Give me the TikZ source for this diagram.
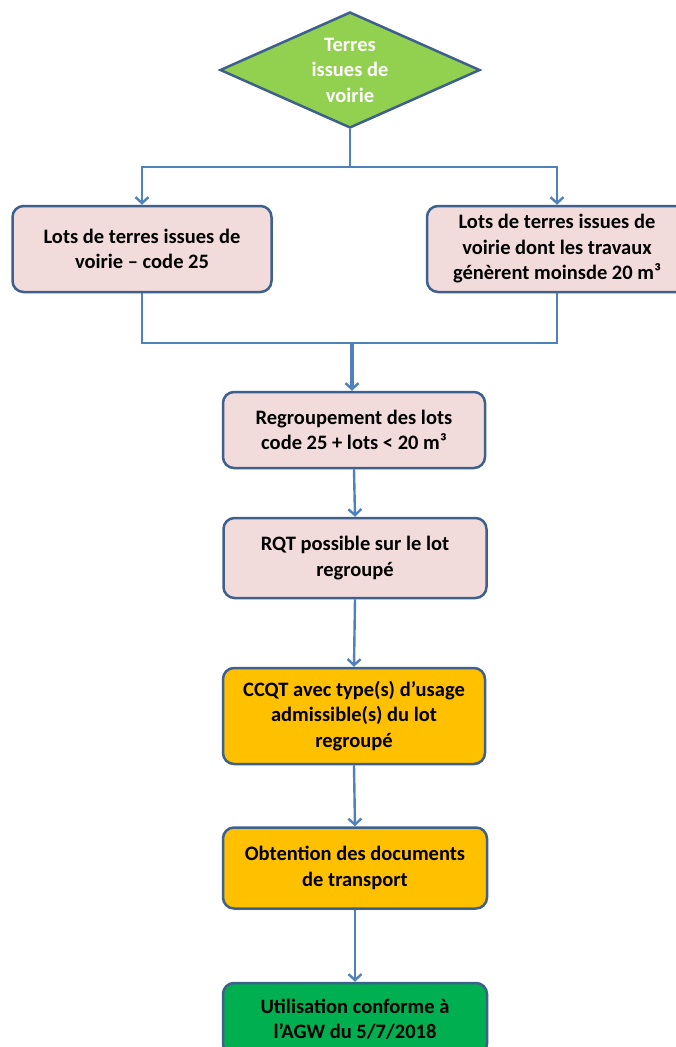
\documentclass[tikz,border=0pt]{standalone}
\usepackage{fontspec}
\setmainfont{Carlito}
\usetikzlibrary{shapes.geometric,arrows.meta}
\definecolor{bord}{RGB}{62,96,140}
\definecolor{lnk}{RGB}{79,129,189}
\definecolor{pinkf}{RGB}{242,220,219}
\definecolor{orangef}{RGB}{255,192,0}
\definecolor{lgreen}{RGB}{146,208,80}
\definecolor{dgreen}{RGB}{0,176,80}
\tikzset{
  box/.style={draw=bord, line width=2.5pt, rounded corners=11pt, align=center,
    font=\fontsize{20.5}{25.5}\selectfont\bfseries, inner sep=0pt, text=black},
  pinkbox/.style={box, fill=pinkf},
  orbox/.style={box, fill=orangef},
  grbox/.style={box, fill=dgreen},
  link/.style={draw=lnk, line width=2.4pt},
  arr/.style={link, -{Straight Barb[length=6pt,width=13pt,line width=2.4pt]}},
}
\begin{document}
\begin{tikzpicture}[x=1pt,y=-1pt]
\useasboundingbox (0,0) rectangle (676,1047);
\node[diamond, draw=bord, line width=2.5pt, fill=lgreen, aspect=2.24, inner sep=0pt,
  minimum width=260pt, minimum height=116pt, text=white, align=center,
  font=\fontsize{20.5}{25.5}\selectfont\bfseries] (d) at (350,70) {Terres\\issues de\\voirie};
\node[pinkbox, minimum width=259pt, minimum height=86pt] (l) at (142,249)
  {Lots de terres issues de\\voirie – code 25};
\node[pinkbox, minimum width=260pt, minimum height=86pt] (r) at (557,249)
  {Lots de terres issues de\\voirie dont les travaux\\génèrent moinsde 20 m³};
\node[pinkbox, minimum width=262pt, minimum height=76pt] (g) at (354,430)
  {Regroupement des lots\\code 25 + lots < 20 m³};
\node[pinkbox, minimum width=263pt, minimum height=80pt] (q) at (355,558)
  {RQT possible sur le lot\\regroupé};
\node[orbox, minimum width=262pt, minimum height=96pt] (c) at (354,716)
  {CCQT avec type(s) d’usage\\admissible(s) du lot\\regroupé};
\node[orbox, minimum width=264pt, minimum height=81pt] (o) at (355,868)
  {Obtention des documents\\de transport};
\node[grbox, minimum width=264pt, minimum height=72pt] (u) at (355,1019)
  {Utilisation conforme à\\l’AGW du 5/7/2018};
\coordinate (s) at (350,167);
\coordinate (m) at (352,343);
\draw[link] (d.south) -- (s);
\draw[arr] (s) -| (l.north);
\draw[arr] (s) -| (r.north);
\draw[link] (l.south) |- (m) -| (r.south);
\draw[arr, line width=3.2pt] (m) -- (m |- g.north);
\draw[arr] (g.south) -- (q.north);
\draw[arr] (q.south) -- (c.north);
\draw[arr] (c.south) -- (o.north);
\draw[arr] (o.south) -- (u.north);
\end{tikzpicture}
\end{document}
